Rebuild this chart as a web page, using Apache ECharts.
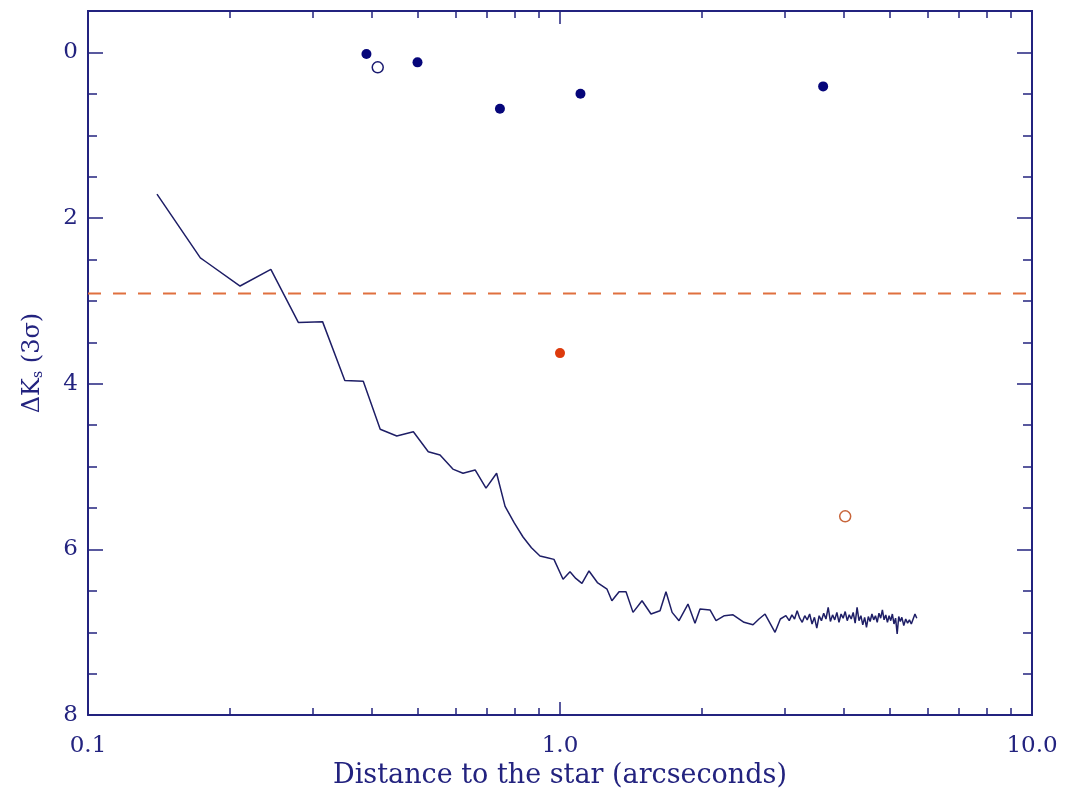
<!DOCTYPE html>
<html>
<head>
<meta charset="utf-8">
<script src="https://cdn.jsdelivr.net/npm/echarts@6/dist/echarts.min.js"></script>
<style>
  html, body { margin: 0; padding: 0; background: #fff; }
  #chart { width: 1066px; height: 794px; }
</style>
</head>
<body>
<div id="chart"></div>
<script>
// detection limit curve: distance (arcsec), delta Ks (3 sigma)
var curveDist = [0.140, 0.173, 0.178, 0.210, 0.244, 0.279, 0.314, 0.350, 0.383, 0.416, 0.451, 0.489,
    0.526, 0.557, 0.593, 0.623, 0.661, 0.697, 0.734, 0.765, 0.800, 0.835, 0.870, 0.907, 0.940, 0.971,
    1.015, 1.050, 1.080, 1.113, 1.152, 1.20, 1.258, 1.288, 1.334, 1.380, 1.428, 1.492, 1.559, 1.629,
    1.677, 1.728, 1.787, 1.867, 1.932, 1.980, 2.079, 2.141, 2.23, 2.326, 2.454, 2.564, 2.64, 2.719,
    2.855, 2.93, 3.01, 3.06, 3.10, 3.14, 3.18, 3.22, 3.26, 3.30, 3.34, 3.38, 3.42, 3.46, 3.50, 3.54,
    3.58, 3.62, 3.66, 3.70, 3.74, 3.78, 3.82, 3.86, 3.90, 3.94, 3.98, 4.02, 4.06, 4.10, 4.14, 4.18,
    4.22, 4.26, 4.30, 4.34, 4.38, 4.42, 4.46, 4.50, 4.54, 4.58, 4.62, 4.66, 4.70, 4.74, 4.78, 4.82,
    4.86, 4.90, 4.94, 4.98, 5.02, 5.06, 5.10, 5.14, 5.18, 5.22, 5.26, 5.30, 5.35, 5.40, 5.45, 5.50,
    5.55, 5.60, 5.65, 5.70];
var curveDK = [1.71, 2.48, 2.53, 2.82, 2.62, 3.26, 3.25, 3.96, 3.97, 4.55, 4.63, 4.58,
    4.82, 4.86, 5.03, 5.08, 5.04, 5.26, 5.08, 5.48, 5.68, 5.85, 5.98, 6.08, 6.10, 6.12,
    6.36, 6.27, 6.35, 6.41, 6.26, 6.40, 6.48, 6.62, 6.51, 6.51, 6.76, 6.62, 6.78, 6.74,
    6.51, 6.76, 6.86, 6.66, 6.89, 6.72, 6.73, 6.86, 6.80, 6.79, 6.88, 6.91, 6.84, 6.78,
    7.00, 6.84, 6.80, 6.86, 6.79, 6.84, 6.74, 6.83, 6.88, 6.80, 6.85, 6.78, 6.90, 6.82, 6.95, 6.80,
    6.86, 6.77, 6.84, 6.70, 6.87, 6.79, 6.85, 6.76, 6.88, 6.78, 6.83, 6.75, 6.86, 6.79, 6.84, 6.76,
    6.89, 6.70, 6.86, 6.80, 6.91, 6.82, 6.94, 6.81, 6.87, 6.78, 6.85, 6.80, 6.88, 6.77, 6.83, 6.73,
    6.85, 6.79, 6.88, 6.80, 6.86, 6.78, 6.90, 6.83, 7.02, 6.81, 6.87, 6.82, 6.92, 6.84, 6.89, 6.85,
    6.90, 6.84, 6.78, 6.83];

// companion candidates [distance, delta Ks]
var blueFilled = [[0.389, 0.02], [0.499, 0.12], [0.746, 0.68], [1.105, 0.50], [3.61, 0.41]];
var blueOpen = [[0.411, 0.18]];
var redFilled = [[1.0, 3.63]];
var redOpen = [[4.02, 5.60]];
var limitLevel = 2.91;

var xLabelTicks = [0.1, 1, 10];
var xMajorTicks = [1];
var xMinorTicks = [0.2, 0.3, 0.4, 0.5, 0.6, 0.7, 0.8, 0.9, 2, 3, 4, 5, 6, 7, 8, 9];
var yMajorTicks = [0, 2, 4, 6, 8];
var yMinorTicks = [0.5, 1, 1.5, 2.5, 3, 3.5, 4.5, 5, 5.5, 6.5, 7, 7.5];

var navy = '#23237f';
var font = 'DejaVu Serif';

function curveData() {
    var out = [];
    for (var i = 0; i < curveDist.length; i++) {
        out.push([curveDist[i], curveDK[i]]);
    }
    return out;
}

function xAxisOf(pos, ticks, len, withLabels) {
    return {
        type: 'log',
        logBase: 10,
        min: 0.1,
        max: 10,
        position: pos,
        axisLine: { show: withLabels || pos === 'top', onZero: false, lineStyle: { color: navy, width: 2 } },
        axisTick: { inside: true, length: len, customValues: ticks, lineStyle: { color: navy, width: 1.5 } },
        axisLabel: withLabels ? {
            customValues: xLabelTicks,
            margin: 19,
            color: navy,
            fontFamily: font,
            fontSize: 23,
            formatter: function(v) { return Number(v).toFixed(1); }
        } : { show: false },
        splitLine: { show: false },
        minorTick: { show: false },
        name: withLabels ? 'Distance to the star (arcseconds)' : '',
        nameLocation: 'middle',
        nameGap: 45,
        nameTextStyle: { color: navy, fontFamily: font, fontSize: 27 }
    };
}

function yAxisOf(pos, ticks, len, withLabels) {
    return {
        type: 'value',
        min: -0.5,
        max: 8,
        inverse: true,
        position: pos,
        axisLine: { show: withLabels || pos === 'right', onZero: false, lineStyle: { color: navy, width: 2 } },
        axisTick: { inside: true, length: len, customValues: ticks, lineStyle: { color: navy, width: 1.5 } },
        axisLabel: withLabels ? {
            customValues: yMajorTicks,
            margin: 10,
            color: navy,
            fontFamily: font,
            fontSize: 23
        } : { show: false },
        splitLine: { show: false },
        name: withLabels ? '{a|ΔK}{s|s}{a| (3σ)}' : '',
        nameLocation: 'middle',
        nameRotate: 90,
        nameGap: 43,
        nameTextStyle: {
            rich: {
                a: { color: navy, fontFamily: font, fontSize: 24 },
                s: { color: navy, fontFamily: font, fontSize: 14, padding: [10, 0, 0, 0] }
            }
        }
    };
}

var option = {
    animation: false,
    backgroundColor: '#fff',
    grid: { left: 88, right: 34, top: 11, bottom: 78 },
    xAxis: [
        xAxisOf('bottom', xMajorTicks, 13, true),
        xAxisOf('bottom', xMinorTicks, 7, false),
        xAxisOf('top', xMajorTicks, 13, false),
        xAxisOf('top', xMinorTicks, 7, false)
    ],
    yAxis: [
        yAxisOf('left', yMajorTicks, 15, true),
        yAxisOf('left', yMinorTicks, 9, false),
        yAxisOf('right', yMajorTicks, 15, false),
        yAxisOf('right', yMinorTicks, 9, false)
    ],
    series: [{
        name: 'limit',
        type: 'line',
        data: [[0.1, limitLevel], [10, limitLevel]],
        showSymbol: false,
        lineStyle: { color: '#e0703f', width: 2, type: [13, 12] }
    }, {
        name: 'detection',
        type: 'line',
        data: curveData(),
        showSymbol: false,
        lineStyle: { color: '#1e1e66', width: 1.5 }
    }, {
        type: 'scatter',
        data: blueFilled,
        symbolSize: 10,
        itemStyle: { color: '#06067a', opacity: 1 }
    }, {
        type: 'scatter',
        data: blueOpen,
        symbolSize: 11,
        itemStyle: { color: '#fff', borderColor: '#1a1a70', borderWidth: 1.5, opacity: 1 }
    }, {
        type: 'scatter',
        data: redFilled,
        symbolSize: 10,
        itemStyle: { color: '#dd3a0c', opacity: 1 }
    }, {
        type: 'scatter',
        data: redOpen,
        symbolSize: 11,
        itemStyle: { color: '#fff', borderColor: '#c8653a', borderWidth: 1.5, opacity: 1 }
    }]
};

echarts.init(document.getElementById('chart')).setOption(option);
</script>
</body>
</html>
